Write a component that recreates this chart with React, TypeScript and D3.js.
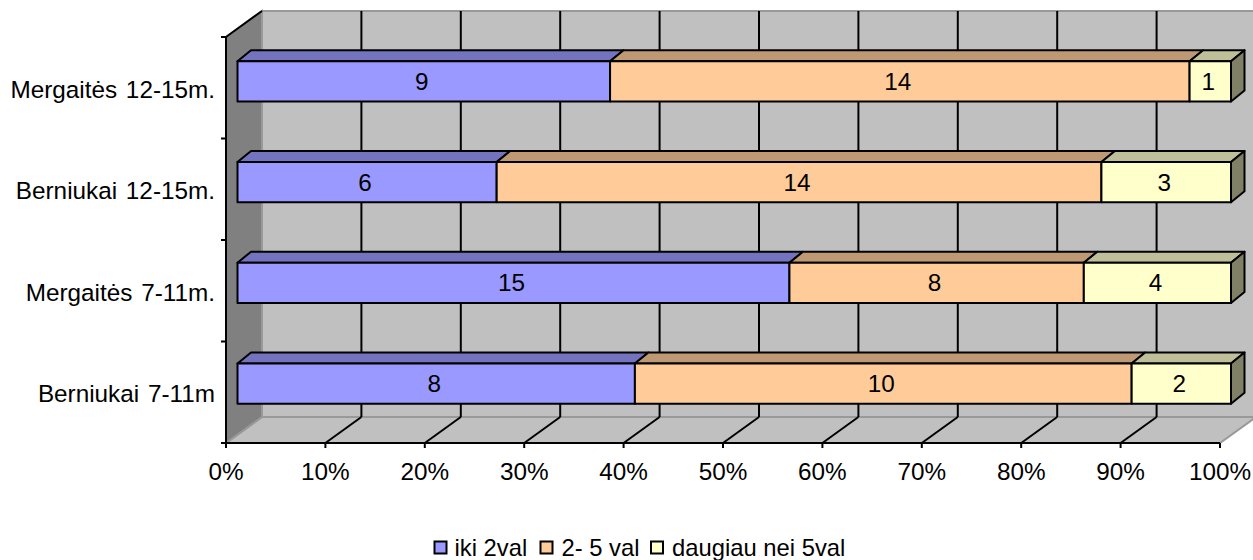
import React from "react"
import * as d3 from "d3"

const categories = ["Mergaitės 12-15m.", "Berniukai 12-15m.", "Mergaitės 7-11m.", "Berniukai 7-11m"]
const seriesNames = ["iki 2val", "2- 5 val", "daugiau nei 5val"]
const iki2val = [9, 6, 15, 8]
const du5val = [14, 14, 8, 10]
const daugiau5val = [1, 3, 4, 2]
const percentTicks = [0, 0.1, 0.2, 0.3, 0.4, 0.5, 0.6, 0.7, 0.8, 0.9, 1]

const frontColors = ["#9999ff", "#ffcc99", "#ffffcc"]
const topColors = ["#7373bf", "#bf9973", "#bfbf99"]
const sideColor = "#808066"
const WIDTH = 1253
const HEIGHT = 560
const FONT = "'Liberation Sans', Arial, sans-serif"
const FONT_SIZE = 24.3

// chart depth, front plane to back wall
const DX = 36
const DY = -26
// bar depth
const BAR_DX = 13.5
const BAR_DY = -11

const rows = categories.map((c, i) => ({ c, a: iki2val[i], b: du5val[i], d: daugiau5val[i] }))
const stacked = d3.stack<any>().keys(["a", "b", "d"]).offset(d3.stackOffsetExpand)(rows)

const x = d3.scaleLinear().domain([0, 1]).range([226, 1220])
const xBar = d3.scaleLinear().domain([0, 1]).range([237.5, 1231])
const yFront = d3.scaleBand().domain(categories).range([37, 443])
const yBar = d3.scaleBand().domain(categories).range([31, 434]).paddingInner(0.6).paddingOuter(0.3)

const poly = (pts: [number, number][]) => pts.map(p => p.join(",")).join(" ")

export default function App() {
    const x0 = x(0)
    const x1 = x(1)
    const top = yFront.range()[0]
    const bottom = yFront.range()[1]
    const yTicks = [...categories.map(c => yFront(c) as number), bottom]
    const bh = yBar.bandwidth()

    return (
        <svg width={WIDTH} height={HEIGHT} style={{ position: "absolute", left: 0, top: 0 }} fontFamily={FONT} fontSize={FONT_SIZE}>
            <rect width={WIDTH} height={HEIGHT} fill="#fff" />

            {/* walls */}
            <polygon points={poly([[x0 + DX, top + DY], [x1 + DX, top + DY], [x1 + DX, bottom + DY], [x0 + DX, bottom + DY]])} fill="#c0c0c0" stroke="#999" strokeWidth={2} />
            <polygon points={poly([[x0, bottom], [x0 + DX, bottom + DY], [x1 + DX, bottom + DY], [x1, bottom]])} fill="#c0c0c0" stroke="#999" strokeWidth={2} />
            <polygon points={poly([[x0, top], [x0 + DX, top + DY], [x0 + DX, bottom + DY], [x0, bottom]])} fill="#808080" stroke="#999" strokeWidth={2} />

            {/* gridlines */}
            {percentTicks.slice(1, -1).map(t => (
                <g key={t} stroke="#000" strokeWidth={2} fill="none">
                    <line x1={x(t) + DX} x2={x(t) + DX} y1={top + DY} y2={bottom + DY} />
                    <line x1={x(t)} y1={bottom} x2={x(t) + DX} y2={bottom + DY} />
                </g>
            ))}

            {/* axes */}
            <g stroke="#000" strokeWidth={2} fill="none">
                <line x1={x0} x2={x0} y1={top} y2={bottom} />
                <line x1={x0} y1={top} x2={x0 + DX} y2={top + DY} />
                <line x1={x0} x2={x1} y1={bottom} y2={bottom} />
                {yTicks.map(y => <line key={y} x1={x0 - 5} x2={x0} y1={y} y2={y} />)}
                {percentTicks.map(t => <line key={t} x1={x(t)} x2={x(t)} y1={bottom} y2={bottom + 5} />)}
            </g>
            {percentTicks.map(t => (
                <text key={t} x={x(t)} y={480} textAnchor="middle" fill="#000">{d3.format(".0%")(t)}</text>
            ))}
            {categories.map(c => (
                <text key={c} x={215} y={(yFront(c) as number) + yFront.bandwidth() / 2 + 10} textAnchor="end" fill="#000" wordSpacing={2}>{c}</text>
            ))}

            {/* bars */}
            {categories.map((c, i) => {
                const y = yBar(c) as number
                const last = stacked[stacked.length - 1][i]
                const endX = xBar(last[1])
                return (
                    <g key={c} stroke="#000" strokeWidth={2} strokeLinejoin="round">
                        {stacked.map((s, k) => {
                            const a = xBar(s[i][0])
                            const b = xBar(s[i][1])
                            return <polygon key={k} fill={topColors[k]} points={poly([[a, y], [a + BAR_DX, y + BAR_DY], [b + BAR_DX, y + BAR_DY], [b, y]])} />
                        })}
                        <polygon fill={sideColor} points={poly([[endX, y], [endX + BAR_DX, y + BAR_DY], [endX + BAR_DX, y + bh + BAR_DY], [endX, y + bh]])} />
                        {stacked.map((s, k) => {
                            const a = xBar(s[i][0])
                            const b = xBar(s[i][1])
                            const value = [iki2val, du5val, daugiau5val][k][i]
                            return (
                                <g key={k}>
                                    <rect x={a} y={y} width={b - a} height={bh} fill={frontColors[k]} />
                                    <text x={(a + b) / 2 - 2} y={y + bh / 2 + 8.5} textAnchor="middle" fill="#000" stroke="none">{value}</text>
                                </g>
                            )
                        })}
                    </g>
                )
            })}

            {/* legend */}
            {seriesNames.map((name, k) => {
                const sx = [434.5, 540.5, 651][k]
                return (
                    <g key={name}>
                        <rect x={sx} y={541.5} width={12} height={12} fill={frontColors[k]} stroke="#000" strokeWidth={2} />
                        <text x={sx + [20, 21, 21][k]} y={556} fontSize={23.8} fill="#000">{name}</text>
                    </g>
                )
            })}
        </svg>
    )
}
